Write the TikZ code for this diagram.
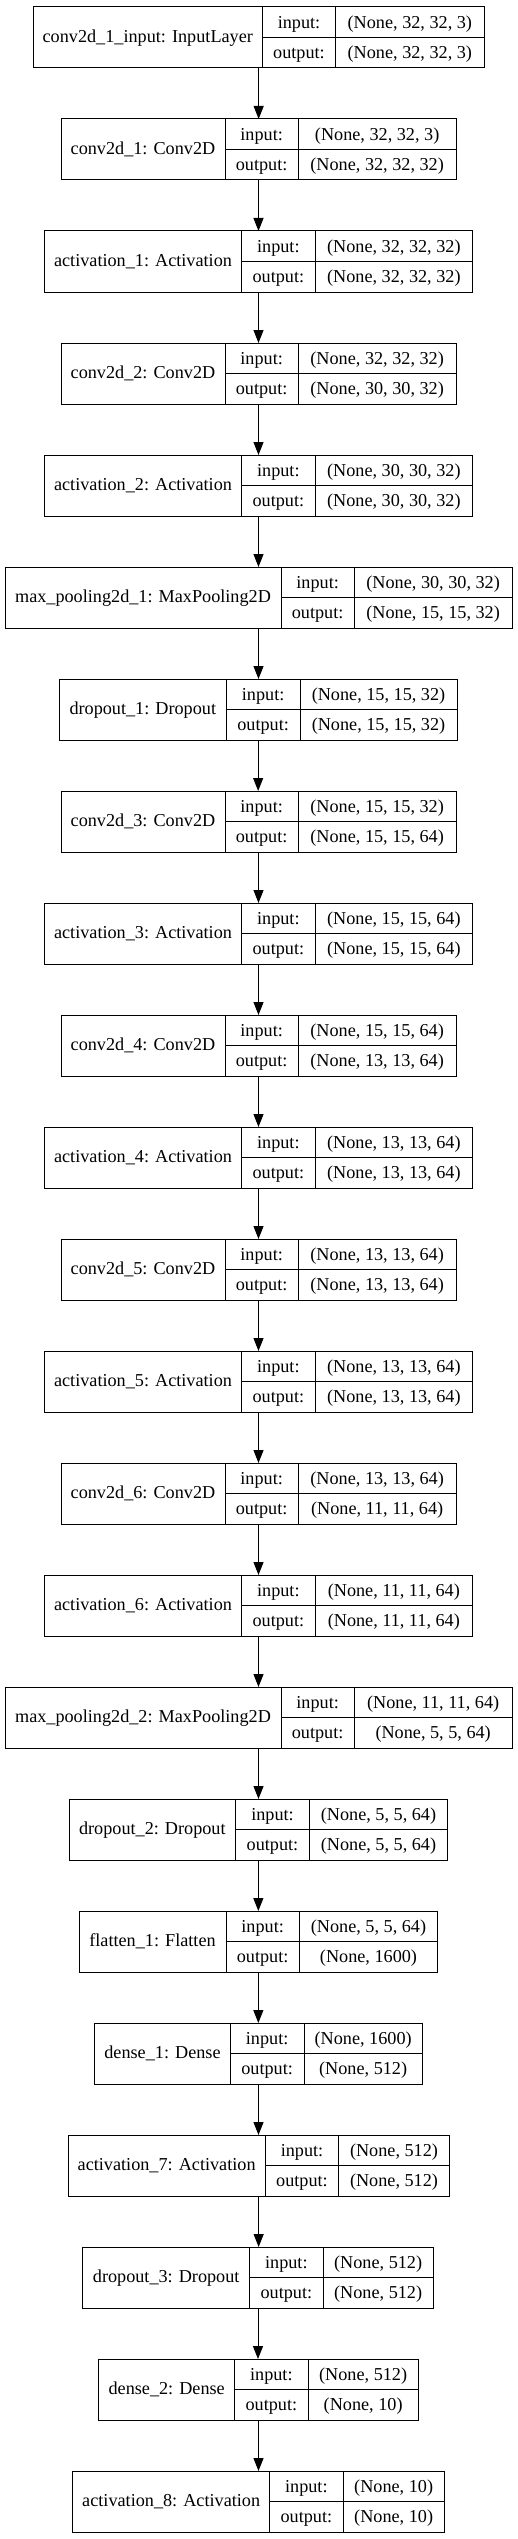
\documentclass[tikz,border=0pt]{standalone}
\usepackage{fontspec}
\setmainfont{Liberation Serif}
\usetikzlibrary{arrows.meta}
\tikzset{
  layerbox/.style={draw=black, line width=1pt, inner sep=0pt, outer sep=0pt, rectangle},
  celltext/.style={anchor=base, inner sep=0pt, font=\fontsize{18.2}{20}\selectfont},
  cellline/.style={line width=1pt},
  flow/.style={line width=1pt, -{Triangle[length=13pt,width=10pt]}},
}
% name, index, left, divider1, divider2, right, label, input shape, output shape
\newcommand{\kerasLayer}[9]{%
  \pgfmathsetmacro{\kLtop}{7+112*#2}%
  \pgfmathsetmacro{\kLmid}{\kLtop+30.5}%
  \pgfmathsetmacro{\kLbot}{\kLtop+61}%
  \pgfmathsetmacro{\kLcx}{(#3+#6)/2}%
  \pgfmathsetmacro{\kLwd}{#6-#3}%
  \node[layerbox, minimum width=\kLwd pt, minimum height=61pt] (#1) at (\kLcx,\kLmid) {};
  \draw[cellline] (#4,\kLtop) -- (#4,\kLbot);
  \draw[cellline] (#5,\kLtop) -- (#5,\kLbot);
  \draw[cellline] (#4,\kLmid) -- (#6,\kLmid);
  \node[celltext] (#1-label) at ({(#3+#4)/2},{\kLmid+5}) {#7};
  \node[celltext] (#1-inkey) at ({(#4+#5)/2},{\kLtop+21.25}) {input:};
  \node[celltext] (#1-inval) at ({(#5+#6)/2},{\kLtop+21.25}) {#8};
  \node[celltext] (#1-outkey) at ({(#4+#5)/2},{\kLmid+21.25}) {output:};
  \node[celltext] (#1-outval) at ({(#5+#6)/2},{\kLmid+21.25}) {#9};
}
\begin{document}
\begin{tikzpicture}[x=1pt,y=-1pt]
\fill[white] (0,0) rectangle (517,2539);
\useasboundingbox (0,0) rectangle (517,2539);
\kerasLayer{n0}{0}{33.3}{262.3}{335.7}{484}{conv2d\_1\_input: InputLayer}{(None, 32, 32, 3)}{(None, 32, 32, 3)}
\kerasLayer{n1}{1}{61}{225}{298.3}{456}{conv2d\_1: Conv2D}{(None, 32, 32, 3)}{(None, 32, 32, 32)}
\kerasLayer{n2}{2}{44.3}{241.7}{315}{472.7}{activation\_1: Activation}{(None, 32, 32, 32)}{(None, 32, 32, 32)}
\kerasLayer{n3}{3}{61}{225}{298.3}{456}{conv2d\_2: Conv2D}{(None, 32, 32, 32)}{(None, 30, 30, 32)}
\kerasLayer{n4}{4}{44.3}{241.7}{315}{472.7}{activation\_2: Activation}{(None, 30, 30, 32)}{(None, 30, 30, 32)}
\kerasLayer{n5}{5}{5}{281}{354.3}{512}{max\_pooling2d\_1: MaxPooling2D}{(None, 30, 30, 32)}{(None, 15, 15, 32)}
\kerasLayer{n6}{6}{59.3}{226.3}{300}{457}{dropout\_1: Dropout}{(None, 15, 15, 32)}{(None, 15, 15, 32)}
\kerasLayer{n7}{7}{61}{225}{298.3}{456}{conv2d\_3: Conv2D}{(None, 15, 15, 32)}{(None, 15, 15, 64)}
\kerasLayer{n8}{8}{44.3}{241.7}{315}{472.7}{activation\_3: Activation}{(None, 15, 15, 64)}{(None, 15, 15, 64)}
\kerasLayer{n9}{9}{61}{225}{298.3}{456}{conv2d\_4: Conv2D}{(None, 15, 15, 64)}{(None, 13, 13, 64)}
\kerasLayer{n10}{10}{44.3}{241.7}{315}{472.7}{activation\_4: Activation}{(None, 13, 13, 64)}{(None, 13, 13, 64)}
\kerasLayer{n11}{11}{61}{225}{298.3}{456}{conv2d\_5: Conv2D}{(None, 13, 13, 64)}{(None, 13, 13, 64)}
\kerasLayer{n12}{12}{44.3}{241.7}{315}{472.7}{activation\_5: Activation}{(None, 13, 13, 64)}{(None, 13, 13, 64)}
\kerasLayer{n13}{13}{61}{225}{298.3}{456}{conv2d\_6: Conv2D}{(None, 13, 13, 64)}{(None, 11, 11, 64)}
\kerasLayer{n14}{14}{44.3}{241.7}{315}{472.7}{activation\_6: Activation}{(None, 11, 11, 64)}{(None, 11, 11, 64)}
\kerasLayer{n15}{15}{5}{281}{354.3}{512}{max\_pooling2d\_2: MaxPooling2D}{(None, 11, 11, 64)}{(None, 5, 5, 64)}
\kerasLayer{n16}{16}{69}{235.7}{309.3}{447.7}{dropout\_2: Dropout}{(None, 5, 5, 64)}{(None, 5, 5, 64)}
\kerasLayer{n17}{17}{79}{226}{299.3}{437.7}{flatten\_1: Flatten}{(None, 5, 5, 64)}{(None, 1600)}
\kerasLayer{n18}{18}{94.7}{230.3}{304}{422.3}{dense\_1: Dense}{(None, 1600)}{(None, 512)}
\kerasLayer{n19}{19}{68}{265.3}{338.7}{449.3}{activation\_7: Activation}{(None, 512)}{(None, 512)}
\kerasLayer{n20}{20}{82.7}{249.7}{323}{433.3}{dropout\_3: Dropout}{(None, 512)}{(None, 512)}
\kerasLayer{n21}{21}{98.7}{234.7}{308}{418.3}{dense\_2: Dense}{(None, 512)}{(None, 10)}
\kerasLayer{n22}{22}{72.7}{269.7}{343}{444.3}{activation\_8: Activation}{(None, 10)}{(None, 10)}
\foreach \i in {0,...,21}{
  \pgfmathtruncatemacro{\j}{\i+1}
  \draw[flow] (n\i.south) -- (n\i.south |- n\j.north);
}
\end{tikzpicture}
\end{document}
